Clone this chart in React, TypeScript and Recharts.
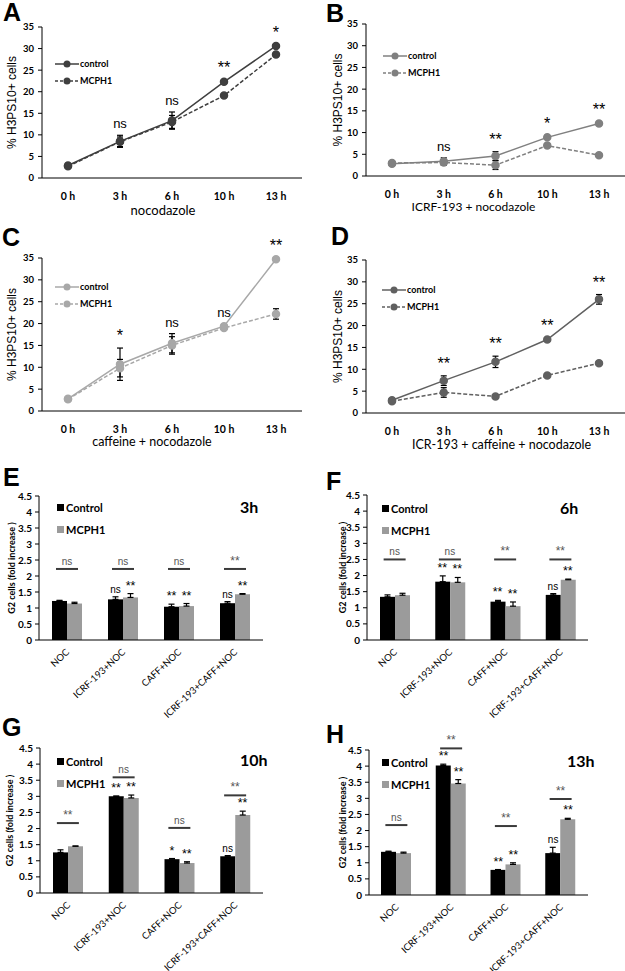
import React from 'react';
import { LineChart, Line, BarChart, Bar, XAxis, YAxis, ErrorBar, ReferenceDot, Legend } from 'recharts';

const timePoints = ['0 h', '3 h', '6 h', '10 h', '13 h'];
const treatments = ['NOC', 'ICRF-193+NOC', 'CAFF+NOC', 'ICRF-193+CAFF+NOC'];
const lineTicks = [0, 5, 10, 15, 20, 25, 30, 35];
const barTicks = [0, 0.5, 1, 1.5, 2, 2.5, 3, 3.5, 4, 4.5];

// A - nocodazole
const aControl = [2.9, 8.5, 13.3, 22.3, 30.6];
const aControlErr = [0.2, 1.4, 2.0, 0.3, 0.3];
const aMcph1 = [2.7, 8.4, 13.0, 19.1, 28.6];
const aMcph1Err = [0.2, 1.1, 1.5, 0.3, 0.3];
const aSig = ['', 'ns', 'ns', '**', '*'];

// B - ICRF-193 + nocodazole
const bControl = [2.8, 3.4, 4.6, 8.9, 12.1];
const bControlErr = [0.2, 0.8, 1.0, 0.3, 0.3];
const bMcph1 = [3.0, 3.1, 2.5, 7.0, 4.8];
const bMcph1Err = [0.2, 0.6, 1.0, 0.3, 0.3];
const bSig = ['', 'ns', '**', '*', '**'];

// C - caffeine + nocodazole
const cControl = [2.8, 10.7, 15.5, 19.4, 34.7];
const cControlErr = [0.2, 3.7, 2.2, 0.4, 0.3];
const cMcph1 = [2.7, 9.8, 15.0, 19.0, 22.2];
const cMcph1Err = [0.2, 2.0, 2.0, 0.4, 1.2];
const cSig = ['', '*', 'ns', 'ns', '**'];

// D - ICR-193 + caffeine + nocodazole
const dControl = [2.9, 7.4, 11.7, 16.8, 26.0];
const dControlErr = [0.2, 1.1, 1.3, 0.3, 1.1];
const dMcph1 = [2.7, 4.7, 3.8, 8.6, 11.4];
const dMcph1Err = [0.2, 1.1, 0.3, 0.3, 0.3];
const dSig = ['', '**', '**', '**', '**'];

// E - 3h
const eControl = [1.22, 1.27, 1.04, 1.15];
const eControlErr = [0.02, 0.08, 0.08, 0.05];
const eMcph1 = [1.14, 1.33, 1.06, 1.43];
const eMcph1Err = [0.04, 0.12, 0.08, 0.02];
const eBracket = [2.22, 2.22, 2.22, 2.22];
const eBracketSig = ['ns', 'ns', 'ns', '**'];
const eControlSig = ['', 'ns', '**', 'ns'];
const eMcph1Sig = ['', '**', '**', '**'];

// F - 6h
const fControl = [1.34, 1.81, 1.19, 1.4];
const fControlErr = [0.06, 0.18, 0.04, 0.04];
const fMcph1 = [1.39, 1.79, 1.05, 1.87];
const fMcph1Err = [0.06, 0.15, 0.13, 0.02];
const fBracket = [2.5, 2.5, 2.5, 2.5];
const fBracketSig = ['ns', 'ns', '**', '**'];
const fControlSig = ['', '**', '**', 'ns'];
const fMcph1Sig = ['', '**', '**', '**'];

// G - 10h
const gControl = [1.26, 3.0, 1.05, 1.14];
const gControlErr = [0.08, 0.01, 0.02, 0.02];
const gMcph1 = [1.45, 2.95, 0.93, 2.42];
const gMcph1Err = [0.01, 0.09, 0.04, 0.12];
const gBracket = [2.17, 3.59, 2.02, 3.03];
const gBracketSig = ['**', 'ns', 'ns', '**'];
const gControlSig = ['', '**', '*', 'ns'];
const gMcph1Sig = ['', '**', '**', '**'];

// H - 13h
const hControl = [1.34, 4.02, 0.78, 1.3];
const hControlErr = [0.02, 0.04, 0.01, 0.18];
const hMcph1 = [1.3, 3.46, 0.95, 2.35];
const hMcph1Err = [0.03, 0.12, 0.05, 0.03];
const hBracket = [2.17, 4.55, 2.14, 2.98];
const hBracketSig = ['ns', '**', '**', '**'];
const hControlSig = ['', '**', '**', 'ns'];
const hMcph1Sig = ['', '**', '**', '**'];

const TICK_FONT = 'Lato, "Open Sans", sans-serif';
const SIG_FONT = '"Liberation Sans", Arial, sans-serif';
const seriesOrder = ['control', 'mcph1'];

const sigShape = (text: string, dx: number, dy: number, size: number, color: string) => (props: any) => (
  <text
    x={props.cx + dx}
    y={props.cy + dy}
    textAnchor="middle"
    fontFamily={SIG_FONT}
    fontSize={text.includes('*') ? size * 1.25 : size}
    fill={color}
  >
    {text}
  </text>
);

const bracketShape = (text: string) => (props: any) => (
  <g>
    <line x1={props.cx - 11} x2={props.cx + 11} y1={props.cy} y2={props.cy} stroke="#3a3a3a" strokeWidth={2} />
    <text
      x={props.cx}
      y={props.cy - 4}
      textAnchor="middle"
      fontFamily={SIG_FONT}
      fontSize={text.includes('*') ? 12 : 10}
      fill="#555"
    >
      {text}
    </text>
  </g>
);

function sortEntries(payload: any[] = []) {
  return [...payload].sort((a, b) => seriesOrder.indexOf(a.dataKey) - seriesOrder.indexOf(b.dataKey));
}

function LineLegend({ payload }: any) {
  return (
    <div>
      {sortEntries(payload).map((entry: any, i: number) => (
        <div key={i} style={{ display: 'flex', alignItems: 'center', height: 17 }}>
          <svg width={24} height={8}>
            <line x1={0} x2={24} y1={4} y2={4} stroke={entry.color} strokeWidth={1.5} strokeDasharray={entry.dataKey === 'mcph1' ? '3 2' : undefined} />
            <circle cx={12} cy={4} r={3.5} fill={entry.color} />
          </svg>
          <span style={{ fontFamily: TICK_FONT, fontWeight: 700, fontSize: 9, marginLeft: 1 }}>{entry.value}</span>
        </div>
      ))}
    </div>
  );
}

function BarLegend({ payload }: any) {
  return (
    <div>
      {sortEntries(payload).map((entry: any, i: number) => (
        <div key={i} style={{ display: 'flex', alignItems: 'center', height: 22 }}>
          <span style={{ width: 7, height: 7, background: entry.color, display: 'inline-block' }} />
          <span style={{ fontFamily: TICK_FONT, fontWeight: 700, fontSize: 11, marginLeft: 2 }}>{entry.value}</span>
        </div>
      ))}
    </div>
  );
}

function AngledTick({ x, y, payload }: any) {
  const tx = x + 3;
  const ty = y + 5;
  return (
    <text x={tx} y={ty} transform={`rotate(-43 ${tx} ${ty})`} textAnchor="end" fontFamily={TICK_FONT} fontSize={9.5} fill="#000">
      {payload.value}
    </text>
  );
}

interface LinePanelProps {
  left: number; top: number; width: number; height: number;
  marginTop: number; marginRight: number; yAxisWidth: number; xAxisHeight: number;
  yLabelX: number; xLabelOffset: number; xLabelDx: number; xLabelSize: number; color: string; xLabel: string;
  control: number[]; controlErr: number[]; mcph1: number[]; mcph1Err: number[]; sig: string[];
  legendLeft: number; legendTop: number;
}

function LinePanel(p: LinePanelProps) {
  const data = timePoints.map((t, i) => ({
    t,
    control: p.control[i],
    controlErr: p.controlErr[i],
    mcph1: p.mcph1[i],
    mcph1Err: p.mcph1Err[i],
  }));
  return (
    <div style={{ position: 'absolute', left: p.left, top: p.top }}>
      <LineChart width={p.width} height={p.height} data={data} margin={{ top: p.marginTop, right: p.marginRight, left: 0, bottom: 0 }}>
        <XAxis
          dataKey="t"
          height={p.xAxisHeight}
          padding={{ left: 26, right: 26 }}
          axisLine={{ stroke: '#000' }}
          tickLine={false}
          tickMargin={9}
          interval={0}
          tick={{ fontFamily: TICK_FONT, fontWeight: 700, fontSize: 10.5, fill: '#000' }}
          label={{ value: p.xLabel, position: 'insideBottom', offset: p.xLabelOffset, dx: p.xLabelDx, style: { fontFamily: TICK_FONT, fontSize: p.xLabelSize, fill: '#000' } }}
        />
        <YAxis
          domain={[0, 35]}
          ticks={lineTicks}
          width={p.yAxisWidth}
          axisLine={{ stroke: '#000' }}
          tickLine={{ stroke: '#000' }}
          tickSize={4}
          tickMargin={4}
          tick={{ fontFamily: TICK_FONT, fontWeight: 700, fontSize: 9.5, fill: '#000' }}
          label={{ value: '% H3PS10+ cells', angle: -90, position: 'insideLeft', offset: p.yLabelX, style: { textAnchor: 'middle', fontFamily: SIG_FONT, fontSize: 12, fill: '#000' } }}
        />
        <Line dataKey="control" name="control" stroke={p.color} strokeWidth={1.5} dot={{ r: 3.5, fill: p.color, stroke: p.color }} isAnimationActive={false}>
          <ErrorBar dataKey="controlErr" width={3} stroke="#000" strokeWidth={1.2} />
        </Line>
        <Line dataKey="mcph1" name="MCPH1" stroke={p.color} strokeWidth={1.5} strokeDasharray="4 2" dot={{ r: 3.5, fill: p.color, stroke: p.color, strokeDasharray: '' }} isAnimationActive={false}>
          <ErrorBar dataKey="mcph1Err" width={3} stroke="#000" strokeWidth={1.2} />
        </Line>
        {data.map((d, i) =>
          p.sig[i] ? (
            <ReferenceDot
              key={i}
              x={d.t}
              y={Math.max(d.control + d.controlErr, d.mcph1 + d.mcph1Err)}
              ifOverflow="visible"
              shape={sigShape(p.sig[i], 0, -7, 13, '#000')}
            />
          ) : null
        )}
        <Legend
          layout="vertical"
          align="center"
          verticalAlign="middle"
          content={<LineLegend />}
          wrapperStyle={{ left: p.legendLeft, top: p.legendTop, width: 90, height: 34 }}
        />
      </LineChart>
    </div>
  );
}

interface BarPanelProps {
  left: number; top: number; width: number; height: number;
  marginTop: number; marginRight: number; yAxisWidth: number; xAxisHeight: number; yLabelX: number;
  control: number[]; controlErr: number[]; mcph1: number[]; mcph1Err: number[];
  bracket: number[]; bracketSig: string[]; controlSig: string[]; mcph1Sig: string[];
  legendLeft: number; legendTop: number;
}

function BarPanel(p: BarPanelProps) {
  const data = treatments.map((g, i) => ({
    g,
    control: p.control[i],
    controlErr: [0, p.controlErr[i]],
    mcph1: p.mcph1[i],
    mcph1Err: [0, p.mcph1Err[i]],
  }));
  return (
    <div style={{ position: 'absolute', left: p.left, top: p.top }}>
      <BarChart width={p.width} height={p.height} data={data} barGap={0} barSize={15} margin={{ top: p.marginTop, right: p.marginRight, left: 0, bottom: 0 }}>
        <XAxis dataKey="g" height={p.xAxisHeight} axisLine={{ stroke: '#000' }} tickLine={false} interval={0} tick={<AngledTick />} />
        <YAxis
          domain={[0, 4.5]}
          ticks={barTicks}
          width={p.yAxisWidth}
          axisLine={{ stroke: '#000' }}
          tickLine={{ stroke: '#000' }}
          tickSize={4}
          tickMargin={3}
          tick={{ fontFamily: TICK_FONT, fontWeight: 700, fontSize: 10, fill: '#000' }}
          label={{ value: 'G2 cells (fold increase )', angle: -90, position: 'insideLeft', offset: p.yLabelX, style: { textAnchor: 'middle', fontFamily: TICK_FONT, fontWeight: 700, fontSize: 9, fill: '#000' } }}
        />
        <Bar dataKey="control" name="Control" fill="#000" isAnimationActive={false}>
          <ErrorBar dataKey="controlErr" width={3} stroke="#000" strokeWidth={1.2} />
        </Bar>
        <Bar dataKey="mcph1" name="MCPH1" fill="#9b9b9b" isAnimationActive={false}>
          <ErrorBar dataKey="mcph1Err" width={3} stroke="#000" strokeWidth={1.2} />
        </Bar>
        {data.map((d, i) => (
          <ReferenceDot key={`b${i}`} x={d.g} y={p.bracket[i]} ifOverflow="visible" shape={bracketShape(p.bracketSig[i])} />
        ))}
        {data.map((d, i) =>
          p.controlSig[i] ? (
            <ReferenceDot key={`c${i}`} x={d.g} y={p.control[i] + p.controlErr[i]} ifOverflow="visible" shape={sigShape(p.controlSig[i], -7.5, -4, 10, '#000')} />
          ) : null
        )}
        {data.map((d, i) =>
          p.mcph1Sig[i] ? (
            <ReferenceDot key={`m${i}`} x={d.g} y={p.mcph1[i] + p.mcph1Err[i]} ifOverflow="visible" shape={sigShape(p.mcph1Sig[i], 7.5, -4, 10, '#000')} />
          ) : null
        )}
        <Legend
          layout="vertical"
          align="center"
          verticalAlign="middle"
          content={<BarLegend />}
          wrapperStyle={{ left: p.legendLeft, top: p.legendTop, width: 80, height: 44 }}
        />
      </BarChart>
    </div>
  );
}

const letterStyle = (left: number, top: number): React.CSSProperties => ({
  position: 'absolute', left, top, fontFamily: SIG_FONT, fontWeight: 700, fontSize: 25, lineHeight: 1,
});

const timeStyle = (left: number, top: number): React.CSSProperties => ({
  position: 'absolute', left, top, fontFamily: TICK_FONT, fontWeight: 700, fontSize: 16, lineHeight: 1,
});

export default function App() {
  return (
    <div style={{ position: 'absolute', left: 0, top: 0, width: 625, height: 971, background: '#fff', overflow: 'hidden' }}>
      <LinePanel left={0} top={0} width={310} height={220} marginTop={27} marginRight={8} yAxisWidth={42} xAxisHeight={42}
        yLabelX={12} xLabelOffset={5} xLabelDx={-9} xLabelSize={13} color="#3f3f3f" xLabel="nocodazole"
        control={aControl} controlErr={aControlErr} mcph1={aMcph1} mcph1Err={aMcph1Err} sig={aSig}
        legendLeft={55} legendTop={55} />
      <LinePanel left={310} top={0} width={315} height={220} marginTop={24} marginRight={0} yAxisWidth={56} xAxisHeight={44}
        yLabelX={28} xLabelOffset={9} xLabelDx={-22} xLabelSize={12} color="#808080" xLabel="ICRF-193 + nocodazole"
        control={bControl} controlErr={bControlErr} mcph1={bMcph1} mcph1Err={bMcph1Err} sig={bSig}
        legendLeft={73} legendTop={47} />
      <LinePanel left={0} top={220} width={310} height={235} marginTop={38} marginRight={8} yAxisWidth={42} xAxisHeight={44}
        yLabelX={12} xLabelOffset={9} xLabelDx={-20} xLabelSize={12.5} color="#a8a8a8" xLabel="caffeine + nocodazole"
        control={cControl} controlErr={cControlErr} mcph1={cMcph1} mcph1Err={cMcph1Err} sig={cSig}
        legendLeft={55} legendTop={58} />
      <LinePanel left={310} top={220} width={315} height={235} marginTop={40} marginRight={0} yAxisWidth={56} xAxisHeight={42}
        yLabelX={28} xLabelOffset={6} xLabelDx={6} xLabelSize={12.5} color="#606060" xLabel="ICR-193 + caffeine + nocodazole"
        control={dControl} controlErr={dControlErr} mcph1={dMcph1} mcph1Err={dMcph1Err} sig={dSig}
        legendLeft={72} legendTop={61} />

      <BarPanel left={0} top={440} width={310} height={290} marginTop={56} marginRight={47} yAxisWidth={39} xAxisHeight={90} yLabelX={12}
        control={eControl} controlErr={eControlErr} mcph1={eMcph1} mcph1Err={eMcph1Err}
        bracket={eBracket} bracketSig={eBracketSig} controlSig={eControlSig} mcph1Sig={eMcph1Sig}
        legendLeft={57} legendTop={56} />
      <BarPanel left={310} top={440} width={315} height={290} marginTop={55} marginRight={37} yAxisWidth={57} xAxisHeight={90} yLabelX={33}
        control={fControl} controlErr={fControlErr} mcph1={fMcph1} mcph1Err={fMcph1Err}
        bracket={fBracket} bracketSig={fBracketSig} controlSig={fControlSig} mcph1Sig={fMcph1Sig}
        legendLeft={72} legendTop={57} />
      <BarPanel left={0} top={700} width={310} height={271} marginTop={48} marginRight={47} yAxisWidth={40} xAxisHeight={78} yLabelX={10}
        control={gControl} controlErr={gControlErr} mcph1={gMcph1} mcph1Err={gMcph1Err}
        bracket={gBracket} bracketSig={gBracketSig} controlSig={gControlSig} mcph1Sig={gMcph1Sig}
        legendLeft={57} legendTop={50} />
      <BarPanel left={310} top={700} width={315} height={271} marginTop={50} marginRight={37} yAxisWidth={59} xAxisHeight={76} yLabelX={33}
        control={hControl} controlErr={hControlErr} mcph1={hMcph1} mcph1Err={hMcph1Err}
        bracket={hBracket} bracketSig={hBracketSig} controlSig={hControlSig} mcph1Sig={hMcph1Sig}
        legendLeft={72} legendTop={51} />

      <div style={letterStyle(3, 0)}>A</div>
      <div style={letterStyle(326, 1)}>B</div>
      <div style={letterStyle(2, 225)}>C</div>
      <div style={letterStyle(331, 224)}>D</div>
      <div style={letterStyle(3, 465)}>E</div>
      <div style={letterStyle(326, 469)}>F</div>
      <div style={letterStyle(2, 715)}>G</div>
      <div style={letterStyle(326, 722)}>H</div>

      <div style={timeStyle(240, 499)}>3h</div>
      <div style={timeStyle(560, 500)}>6h</div>
      <div style={timeStyle(240, 752)}>10h</div>
      <div style={timeStyle(567, 753)}>13h</div>
    </div>
  );
}
